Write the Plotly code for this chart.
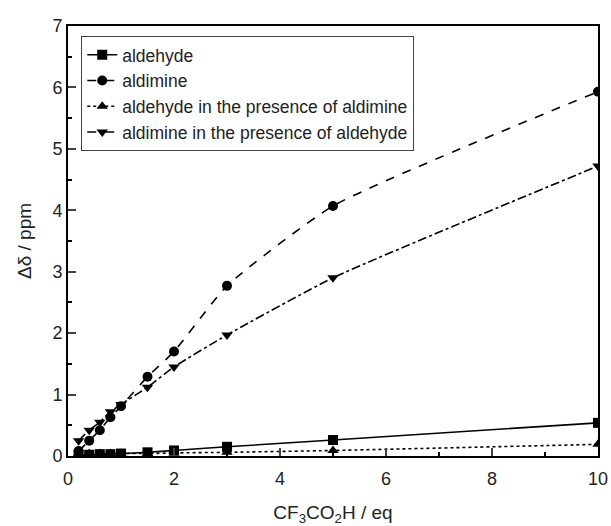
import plotly.graph_objects as go

x = [0.2, 0.4, 0.6, 0.8, 1.0, 1.5, 2, 3, 5, 10]
aldehyde = [0.02, 0.02, 0.03, 0.03, 0.04, 0.06, 0.09, 0.15, 0.26, 0.54]
aldimine = [0.08, 0.25, 0.42, 0.63, 0.81, 1.29, 1.70, 2.77, 4.07, 5.93]
aldehyde_pres = [0.04, 0.04, 0.04, 0.04, 0.04, 0.04, 0.05, 0.06, 0.09, 0.19]
aldimine_pres = [0.25, 0.42, 0.55, 0.72, 0.84, 1.12, 1.45, 1.97, 2.90, 4.72]

names = ["aldehyde", "aldimine", "aldehyde in the presence of aldimine",
         "aldimine in the presence of aldehyde"]
series = [aldehyde, aldimine, aldehyde_pres, aldimine_pres]
symbols = ["square", "circle", "triangle-up", "triangle-down"]
dashes = ["solid", "dash", "dot", "dashdot"]

fig = go.Figure()
for n, ys, s, d in zip(names, series, symbols, dashes):
    fig.add_trace(go.Scatter(
        x=x, y=ys, name=n, mode="lines+markers",
        line=dict(color="black", width=1.6, dash=d, shape="spline", smoothing=0.5),
        marker=dict(symbol=s, size=10, color="black"),
    ))

font = "Liberation Sans, Arial, sans-serif"
fig.update_layout(
    width=611, height=526,
    margin=dict(l=68, r=13, t=26, b=70),
    paper_bgcolor="white", plot_bgcolor="white",
    font=dict(family=font, color="#222", size=17),
    showlegend=True,
    legend=dict(x=0.025, y=0.977, xanchor="left", yanchor="top",
                bordercolor="#444", borderwidth=1, bgcolor="white",
                font=dict(size=17.5, family=font, color="#222"),
                tracegroupgap=0),
    xaxis=dict(range=[0, 10], dtick=2, tick0=0, ticks="inside", ticklen=8,
               tickwidth=1.5, showline=True, linecolor="black", linewidth=2,
               mirror=True, showgrid=False, zeroline=False, automargin=False,
               minor=dict(dtick=1, ticks="inside", ticklen=4, tickcolor="black"),
               tickfont=dict(size=18), ticklabelstandoff=5,
               title=dict(text="CF<sub>3</sub>CO<sub>2</sub>H / eq", font=dict(size=19), standoff=18)),
    yaxis=dict(range=[0, 7], dtick=1, tick0=0, ticks="inside", ticklen=8,
               tickwidth=1.5, showline=True, linecolor="black", linewidth=2,
               mirror=True, showgrid=False, zeroline=False, automargin=False,
               minor=dict(dtick=0.5, ticks="inside", ticklen=4, tickcolor="black"),
               tickfont=dict(size=18),
               title=dict(text="Δδ / ppm", font=dict(size=19), standoff=16)),
)
fig.write_html("out.html")
